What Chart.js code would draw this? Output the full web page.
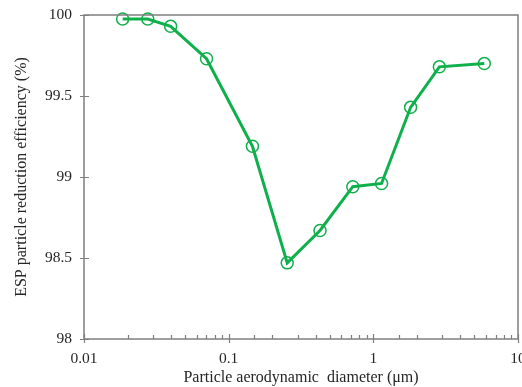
<!DOCTYPE html>
<html>
<head>
<meta charset="utf-8">
<script src="https://cdn.jsdelivr.net/npm/chart.js@4/dist/chart.umd.min.js"></script>
<style>
html,body{margin:0;padding:0;background:#fff;}
#wrap{width:522px;height:387px;position:relative;}
</style>
</head>
<body>
<div id="wrap"><canvas id="c" width="522" height="387"></canvas></div>
<script>
const diameters = [0.0185, 0.0276, 0.0397, 0.0703, 0.146, 0.254, 0.428, 0.721, 1.14, 1.81, 2.86, 5.85];
const efficiency = [99.975, 99.975, 99.93, 99.73, 99.19, 98.47, 98.67, 98.94, 98.96, 99.43, 99.68, 99.70];
const xMajorTicks = [0.01, 0.1, 1, 10];
const xTickLabels = ['0.01', '0.1', '1', '10'];
const yTicks = [98, 98.5, 99, 99.5, 100];
const xTitle = 'Particle aerodynamic  diameter (\u03bcm)';
const yTitle = 'ESP particle reduction efficiency (%)';

const GREEN = '#0fb04c';
const AXIS = '#7f7f7f';
const TXT = '#262626';
const FAMILY = '"Liberation Serif", "Times New Roman", serif';
const TICKFONT = {family: FAMILY, size: 15.5};
const TITLEFONT = {family: FAMILY, size: 16};

const points = diameters.map((d, i) => ({x: d, y: efficiency[i]}));
const isMajor = (v) => xMajorTicks.some(m => Math.abs(Math.log10(m) - Math.log10(v)) < 1e-6);

const tickPlugin = {
  id: 'ticksAndFrame',
  afterDraw(chart) {
    const ctx = chart.ctx;
    const a = chart.chartArea;
    const xs = chart.scales.x, ys = chart.scales.y;
    ctx.save();
    ctx.strokeStyle = AXIS;
    ctx.lineWidth = 1.5;
    ctx.strokeRect(a.left, a.top, a.right - a.left, a.bottom - a.top);
    ctx.lineWidth = 1.2;
    ctx.beginPath();
    xs.ticks.forEach(t => {
      const px = Math.round(xs.getPixelForValue(t.value)) + 0.5;
      if (isMajor(t.value)) { ctx.moveTo(px, a.bottom - 5); ctx.lineTo(px, a.bottom + 4); }
      else { ctx.moveTo(px, a.bottom - 4); ctx.lineTo(px, a.bottom); }
    });
    yTicks.forEach(v => {
      const py = Math.round(ys.getPixelForValue(v)) + 0.5;
      ctx.moveTo(a.left - 4, py); ctx.lineTo(a.left + 5, py);
    });
    ctx.stroke();
    // x tick labels
    ctx.fillStyle = TXT;
    ctx.font = TICKFONT.size + 'px ' + FAMILY;
    ctx.textAlign = 'center';
    ctx.textBaseline = 'middle';
    xMajorTicks.forEach((v, i) => {
      ctx.fillText(xTickLabels[i], xs.getPixelForValue(v), a.bottom + 20);
    });
    ctx.restore();
  }
};

new Chart(document.getElementById('c'), {
  type: 'scatter',
  data: {
    datasets: [{
      data: points,
      showLine: true,
      borderColor: GREEN,
      borderWidth: 3,
      pointRadius: 6,
      pointHoverRadius: 6,
      pointBorderWidth: 1.5,
      pointBackgroundColor: 'rgba(0,0,0,0)',
      pointBorderColor: GREEN,
      tension: 0,
      clip: false
    }]
  },
  options: {
    responsive: false,
    animation: false,
    events: [],
    layout: {autoPadding: false, padding: {top: 15, right: 4, left: 0, bottom: 0}},
    plugins: {legend: {display: false}, tooltip: {enabled: false}},
    scales: {
      x: {
        type: 'logarithmic',
        min: 0.01, max: 10,
        grid: {display: false, drawTicks: false},
        border: {display: false},
        ticks: {
          color: TXT, font: TICKFONT, padding: 12, maxRotation: 0, autoSkip: false,
          callback: () => ''
        },
        title: {display: true, text: xTitle, color: TXT, font: TITLEFONT, padding: {top: 0, bottom: 0}},
        afterFit: (s) => { s.height = 48; s.paddingLeft = 0; s.paddingRight = 0; }
      },
      y: {
        min: 98, max: 100,
        grid: {display: false, drawTicks: false},
        border: {display: false},
        afterBuildTicks: (s) => { s.ticks = yTicks.map(v => ({value: v})); },
        ticks: {color: TXT, font: TICKFONT, padding: 12, callback: (v) => String(v)},
        title: {display: true, text: yTitle, color: TXT, font: TITLEFONT, padding: {top: 12, bottom: 0}},
        afterFit: (s) => { s.width = 84; s.paddingTop = 0; s.paddingBottom = 0; }
      }
    }
  },
  plugins: [tickPlugin]
});
</script>
</body>
</html>
